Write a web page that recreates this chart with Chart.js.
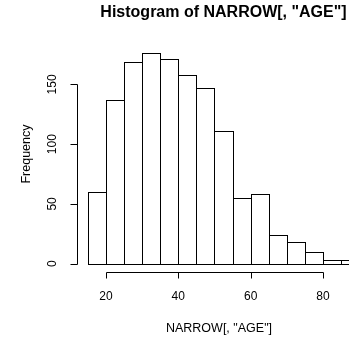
<!DOCTYPE html>
<html>
<head>
<meta charset="utf-8">
<script src="https://cdn.jsdelivr.net/npm/chart.js@4"></script>
<style>
    html, body { margin: 0; padding: 0; overflow: hidden; background: #fff; }
</style>
</head>
<body>
<canvas id="myChart" width="400" height="337"></canvas>
<script>
// histogram bins (width 5) and their counts
const binStarts = [15, 20, 25, 30, 35, 40, 45, 50, 55, 60, 65, 70, 75, 80, 85];
const counts = [60, 137, 169, 176, 171, 158, 147, 111, 55, 58, 24, 18, 10, 3, 3];
const xTicks = [20, 40, 60, 80];
const yTicks = [0, 50, 100, 150];
const binWidth = 5;

const FONT = '"Liberation Sans", Arial, sans-serif';

// outline the bars like R's rect(), one crisp line per edge
const barOutline = {
    id: 'barOutline',
    afterDatasetsDraw(chart) {
        const ctx = chart.ctx;
        const meta = chart.getDatasetMeta(0);
        ctx.save();
        ctx.strokeStyle = '#000';
        ctx.lineWidth = 1;
        meta.data.forEach(bar => {
            const l = Math.round(bar.x - bar.width / 2) + 0.5;
            const r = Math.round(bar.x + bar.width / 2) + 0.5;
            const t = Math.round(bar.y) + 0.5;
            const b = Math.round(bar.base) + 0.5;
            ctx.strokeRect(l, t, r - l, b - t);
        });
        ctx.restore();
    }
};

// R style axes, labels and title
const rAxes = {
    id: 'rAxes',
    afterDraw(chart) {
        const ctx = chart.ctx;
        const xs = chart.scales.x;
        const ys = chart.scales.y;
        const area = chart.chartArea;
        ctx.save();
        ctx.strokeStyle = '#000';
        ctx.fillStyle = '#000';
        ctx.lineWidth = 1;

        // y axis
        const ax = 77.5;
        ctx.beginPath();
        ctx.moveTo(ax, Math.round(ys.getPixelForValue(yTicks[0])) + 0.5);
        ctx.lineTo(ax, Math.round(ys.getPixelForValue(yTicks[yTicks.length - 1])) + 0.5);
        yTicks.forEach(v => {
            const p = Math.round(ys.getPixelForValue(v)) + 0.5;
            ctx.moveTo(ax, p);
            ctx.lineTo(ax - 7, p);
        });
        ctx.stroke();
        ctx.font = '12px ' + FONT;
        ctx.textAlign = 'center';
        ctx.textBaseline = 'middle';
        yTicks.forEach(v => {
            ctx.save();
            ctx.translate(53, ys.getPixelForValue(v));
            ctx.rotate(-Math.PI / 2);
            ctx.fillText(String(v), 0, 0);
            ctx.restore();
        });

        // x axis
        const ay = 272.5;
        ctx.beginPath();
        ctx.moveTo(Math.round(xs.getPixelForValue(xTicks[0])) + 0.5, ay);
        ctx.lineTo(Math.round(xs.getPixelForValue(xTicks[xTicks.length - 1])) + 0.5, ay);
        xTicks.forEach(v => {
            const p = Math.round(xs.getPixelForValue(v)) + 0.5;
            ctx.moveTo(p, ay);
            ctx.lineTo(p, ay + 6);
        });
        ctx.stroke();
        xTicks.forEach(v => {
            ctx.fillText(String(v), xs.getPixelForValue(v), 297);
        });

        // axis titles
        const cx = (area.left + area.right) / 2;
        ctx.font = '12.5px ' + FONT;
        ctx.fillText('NARROW[, "AGE"]', cx - 4.5, 329);
        ctx.save();
        ctx.translate(27, 154);
        ctx.rotate(-Math.PI / 2);
        ctx.fillText('Frequency', 0, 0);
        ctx.restore();

        // main title
        ctx.font = 'bold 16px ' + FONT;
        ctx.fillText('Histogram of NARROW[, "AGE"]', cx, 13);
        ctx.restore();
    }
};

new Chart(document.getElementById('myChart').getContext('2d'), {
    type: 'bar',
    data: {
        datasets: [{
            label: 'Frequency',
            data: binStarts.map((s, i) => ({ x: s + binWidth / 2, y: counts[i] })),
            backgroundColor: '#fff',
            borderWidth: 0,
            inflateAmount: 0,
            barPercentage: 1,
            categoryPercentage: 1
        }]
    },
    options: {
        responsive: false,
        animation: false,
        devicePixelRatio: 1,
        layout: { padding: { left: 77, right: 30, top: 45, bottom: 65 } },
        plugins: {
            legend: { display: false },
            tooltip: { enabled: false }
        },
        scales: {
            x: { type: 'linear', min: 12, max: 93, offset: false, display: false },
            y: { min: -7.04, max: 183.04, display: false }
        }
    },
    plugins: [barOutline, rAxes]
});
</script>
</body>
</html>
